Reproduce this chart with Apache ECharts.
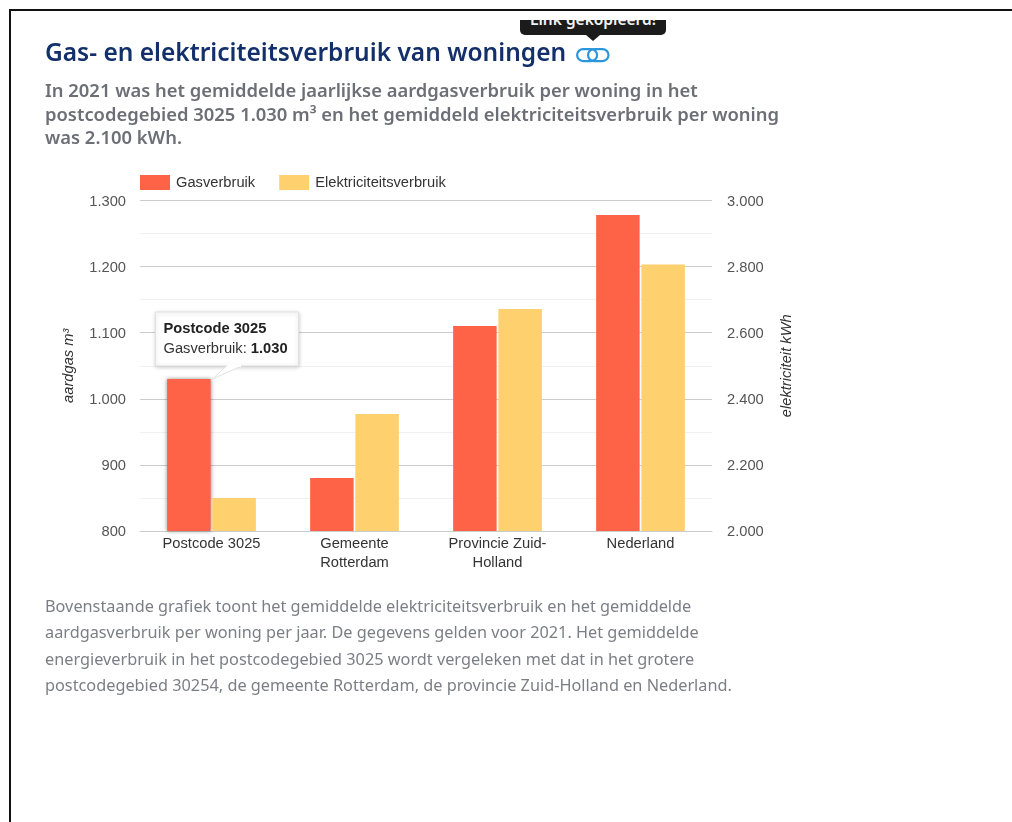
<!DOCTYPE html>
<html lang="nl">
<head>
<meta charset="utf-8">
<title>Gas- en elektriciteitsverbruik van woningen</title>
<script src="https://cdn.jsdelivr.net/npm/echarts@6/dist/echarts.min.js"></script>
<style>
  html, body { margin: 0; padding: 0; background: #fff; overflow: hidden; }
  #page { position: relative; width: 1012px; height: 822px; overflow: hidden; background: #fff; }
  #frameTop { position: absolute; left: 10px; top: 9px; right: 0; height: 2px; background: #111; }
  #frameLeft { position: absolute; left: 9px; top: 9px; bottom: 0; width: 2px; background: #111; }
  #chart { position: absolute; left: 0; top: 0; width: 1012px; height: 822px; }
  .txt { position: absolute; left: 45px; font-family: "Noto Sans", sans-serif; white-space: nowrap; margin: 0; }
  h2.txt { top: 35px; font-size: 24.5px; line-height: 34px; font-weight: 600; color: #13306b; }
  #lead { top: 78px; font-size: 18.4px; line-height: 23.6px; font-weight: 600; color: #6c7076; }
  #body { top: 593px; font-size: 16.3px; line-height: 26.4px; font-weight: 400; color: #7b7f85; }
  #copied { position: absolute; left: 520px; top: 20px; width: 146px; height: 15px; background: #1b1b1b;
            border-radius: 0 0 5px 5px; overflow: hidden; color: #f2f2f2; font: 600 15.5px/16px "Noto Sans", sans-serif; text-align: center; }
  #copied span { position: relative; top: -9px; }
  #copiedTip { position: absolute; left: 586px; top: 35px; width: 0; height: 0;
            border-left: 7px solid transparent; border-right: 7px solid transparent; border-top: 6px solid #1b1b1b; }
  #linkIcon { position: absolute; left: 576px; top: 47px; }
</style>
</head>
<body>
<div id="page">
  <div id="frameTop"></div>
  <div id="frameLeft"></div>
  <div id="chart"></div>
  <h2 class="txt">Gas- en elektriciteitsverbruik van woningen</h2>
  <div id="copied"><span>Link gekopieerd!</span></div>
  <div id="copiedTip"></div>
  <svg id="linkIcon" width="34" height="16" viewBox="0 0 34 16" fill="none" stroke="#2b96dc" stroke-width="2.2">
    <rect x="1.100" y="2.100" width="20" height="12" rx="6" ry="6"/>
    <rect x="12" y="2.100" width="20.500" height="12" rx="6" ry="6"/>
  </svg>
  <p class="txt" id="lead">In 2021 was het gemiddelde jaarlijkse aardgasverbruik per woning in het<br>postcodegebied 3025 1.030 m³ en het gemiddeld elektriciteitsverbruik per woning<br>was 2.100 kWh.</p>
  <p class="txt" id="body">Bovenstaande grafiek toont het gemiddelde elektriciteitsverbruik en het gemiddelde<br>aardgasverbruik per woning per jaar. De gegevens gelden voor 2021. Het gemiddelde<br>energieverbruik in het postcodegebied 3025 wordt vergeleken met dat in het grotere<br>postcodegebied 30254, de gemeente Rotterdam, de provincie Zuid-Holland en Nederland.</p>
</div>
<script>
const categories = ['Postcode 3025', 'Gemeente\nRotterdam', 'Provincie Zuid-\nHolland', 'Nederland'];
const gasUse = [1030, 880, 1110, 1278];
const electricityUse = [2100, 2354, 2672, 2806];
const gasTicks = { min: 800, max: 1300, interval: 100 };
const electricityTicks = { min: 2000, max: 3000, interval: 200 };

const FONT = '"Liberation Sans", Arial, sans-serif';
const LABEL_SIZE = 14.7;
const dutchNumber = v => String(v).replace(/\B(?=(\d{3})+$)/g, '.');

const chart = echarts.init(document.getElementById('chart'), null, { renderer: 'canvas' });

const baseAxis = {
  type: 'value',
  position: 'left',
  nameLocation: 'middle',
  nameRotate: 90,
  nameTextStyle: { fontFamily: FONT, fontSize: LABEL_SIZE, fontStyle: 'italic', color: '#333' },
  axisLine: { show: false },
  axisTick: { show: false },
  axisLabel: {
    fontFamily: FONT, fontSize: LABEL_SIZE, color: '#555',
    formatter: v => '{tick|' + dutchNumber(v) + '}',
    rich: { tick: { fontFamily: FONT, fontSize: LABEL_SIZE, color: '#555', padding: [2, 0, 0, 0] } }
  }
};

chart.setOption({
  animation: false,
  backgroundColor: 'transparent',
  grid: { left: 140, top: 200.5, width: 572, height: 330.5 },
  legend: {
    left: 135, top: 170,
    itemWidth: 30, itemHeight: 15, itemGap: 24,
    icon: 'rect',
    textStyle: { fontFamily: FONT, fontSize: LABEL_SIZE, color: '#333', padding: [0, 0, 0, 1] }
  },
  xAxis: {
    type: 'category',
    data: categories,
    axisLine: { lineStyle: { color: '#ccc' } },
    axisTick: { show: false },
    axisLabel: { fontFamily: FONT, fontSize: LABEL_SIZE, lineHeight: 19, color: '#333', margin: 3, interval: 0 }
  },
  yAxis: [
    Object.assign({}, baseAxis, gasTicks, {
      name: 'aardgas m³',
      nameGap: 64,
      axisLabel: Object.assign({}, baseAxis.axisLabel, { margin: 14 }),
      splitLine: { show: true, lineStyle: { color: '#ccc' } },
      minorTick: { show: false, splitNumber: 2 },
      minorSplitLine: { show: true, lineStyle: { color: '#f0f0f0' } }
    }),
    Object.assign({}, baseAxis, electricityTicks, {
      position: 'right',
      name: 'elektriciteit kWh',
      nameGap: 67,
      axisLabel: Object.assign({}, baseAxis.axisLabel, { margin: 15 }),
      splitLine: { show: false }
    })
  ],
  series: [
    {
      name: 'Gasverbruik',
      type: 'bar',
      yAxisIndex: 0,
      barWidth: 43.5,
      barGap: '4%',
      itemStyle: { color: '#ff6347' },
      data: gasUse.map((v, i) => i === 0
        ? { value: v, itemStyle: { shadowColor: 'rgba(0,0,0,0.45)', shadowBlur: 4 } }
        : v)
    },
    {
      name: 'Elektriciteitsverbruik',
      type: 'bar',
      yAxisIndex: 1,
      barWidth: 43.5,
      itemStyle: { color: '#fed06e' },
      data: electricityUse
    }
  ]
});

// Callout for the first gas bar, anchored on the bar's own top through the axis scales.
const [tipX, tipY] = chart.convertToPixel({ xAxisIndex: 0, yAxisIndex: 0 }, [0, gasUse[0]]);
const barTopX = tipX + 1;
const box = { x: barTopX - 57, y: tipY - 67, w: 143, h: 54 };
const boxStyle = { fill: '#fff', stroke: '#e2e2e2', lineWidth: 1 };
chart.setOption({
  graphic: [
    {
      type: 'rect', z: 100,
      shape: { x: box.x, y: box.y, width: box.w, height: box.h },
      style: Object.assign({}, boxStyle, { shadowColor: 'rgba(0,0,0,0.2)', shadowBlur: 4, shadowOffsetY: 1 })
    },
    {
      type: 'polygon', z: 101,
      shape: { points: [[barTopX, tipY], [barTopX + 14, box.y + box.h], [barTopX + 29, box.y + box.h]] },
      style: boxStyle
    },
    {
      type: 'rect', z: 102,
      shape: { x: barTopX + 14.5, y: box.y + box.h - 1.5, width: 14, height: 2.5 },
      style: { fill: '#fff' }
    },
    {
      type: 'text', z: 103, x: box.x + 8, y: box.y + 9,
      style: { text: 'Postcode 3025', fontFamily: FONT, fontSize: LABEL_SIZE, fontWeight: 'bold', fill: '#222' }
    },
    {
      type: 'text', z: 103, x: box.x + 8, y: box.y + 29,
      style: {
        text: '{n|Gasverbruik: }{v|' + dutchNumber(gasUse[0]) + '}',
        rich: {
          n: { fontFamily: FONT, fontSize: LABEL_SIZE, fill: '#333' },
          v: { fontFamily: FONT, fontSize: LABEL_SIZE, fontWeight: 'bold', fill: '#222' }
        }
      }
    }
  ]
});
</script>
</body>
</html>
